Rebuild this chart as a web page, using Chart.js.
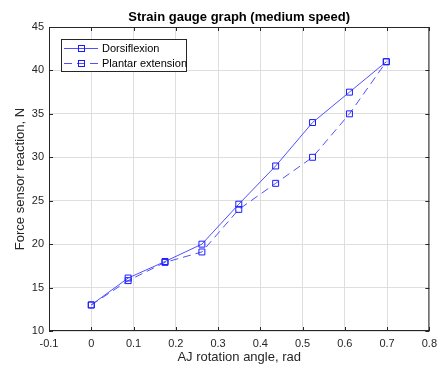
<!DOCTYPE html>
<html>
<head>
<meta charset="utf-8">
<script src="https://cdn.jsdelivr.net/npm/chart.js@4/dist/chart.umd.min.js"></script>
<style>
  html, body { margin: 0; padding: 0; background: #fff; }
  canvas { display: block; }
</style>
</head>
<body>
<canvas id="strain-chart" width="443" height="367"></canvas>
<script>
// data
const angleRad = [0, 0.0873, 0.1745, 0.2618, 0.3491, 0.4363, 0.5236, 0.6109, 0.6981];
const dorsiflexion = [13, 16.1, 18, 20, 24.6, 29, 34, 37.5, 41];
const plantarExt = [13, 15.8, 17.9, 19.1, 24, 27, 30, 35, 41];
const seriesNames = ["Dorsiflexion", "Plantar extension"];
const xTicks = [-0.1, 0, 0.1, 0.2, 0.3, 0.4, 0.5, 0.6, 0.7, 0.8];
const yTicks = [10, 15, 20, 25, 30, 35, 40, 45];

const chartTitle = "Strain gauge graph (medium speed)";
const FONT = "'Liberation Sans', Arial, Helvetica, sans-serif";
const AXIS_DARK = "#262626";
const LINE_BLUE = "#5050ff";
const MARK_BLUE = "#1a1aff";

function pts(xs, ys) {
    return xs.map((x, i) => ({x: x, y: ys[i]}));
}

// title, box frame with inward ticks, legend inside the axes
const matlabLook = {
    id: 'matlabLook',
    afterDraw(chart) {
        const ctx = chart.ctx;
        const a = chart.chartArea;
        const xs = chart.scales.x, ys = chart.scales.y;
        ctx.save();

        // title
        ctx.fillStyle = "#000";
        ctx.font = "bold 13px " + FONT;
        ctx.textAlign = "center";
        ctx.textBaseline = "middle";
        ctx.fillText(chartTitle, (a.left + a.right) / 2, 17);

        // frame
        ctx.strokeStyle = AXIS_DARK;
        ctx.lineWidth = 1;
        ctx.strokeRect(a.left + 0.5, a.top + 0.5, a.right - a.left - 1, a.bottom - a.top - 1);

        // inward ticks
        const tl = 4;
        ctx.beginPath();
        xTicks.forEach((v) => {
            const px = Math.round(xs.getPixelForValue(v)) + 0.5;
            ctx.moveTo(px, a.bottom); ctx.lineTo(px, a.bottom - tl);
            ctx.moveTo(px, a.top); ctx.lineTo(px, a.top + tl);
        });
        yTicks.forEach((v) => {
            const py = Math.round(ys.getPixelForValue(v)) + 0.5;
            ctx.moveTo(a.left, py); ctx.lineTo(a.left + tl, py);
            ctx.moveTo(a.right, py); ctx.lineTo(a.right - tl, py);
        });
        ctx.stroke();

        // legend
        const bx = 61.5, by = 39.5, bw = 125, bh = 32;
        ctx.fillStyle = "#fff";
        ctx.fillRect(bx, by, bw, bh);
        ctx.strokeStyle = AXIS_DARK;
        ctx.strokeRect(bx, by, bw, bh);
        ctx.font = "11px " + FONT;
        ctx.textAlign = "left";
        chart.data.datasets.forEach((ds, i) => {
            const ly = 48.5 + i * 15;
            ctx.strokeStyle = LINE_BLUE;
            ctx.lineWidth = 1;
            ctx.setLineDash(ds.borderDash || []);
            ctx.beginPath();
            ctx.moveTo(64, ly); ctx.lineTo(98, ly);
            ctx.stroke();
            ctx.setLineDash([]);
            ctx.strokeStyle = MARK_BLUE;
            ctx.strokeRect(78.5, ly - 3, 6, 6);
            ctx.fillStyle = "#000";
            ctx.fillText(ds.label, 102, ly + 0.5);
        });
        ctx.restore();
    }
};

new Chart(document.getElementById("strain-chart"), {
    type: 'line',
    data: {
        datasets: [
            {
                label: seriesNames[0],
                data: pts(angleRad, dorsiflexion),
                borderColor: LINE_BLUE,
                borderWidth: 1,
                pointStyle: 'rect',
                pointRadius: 4.2,
                pointBorderColor: MARK_BLUE,
                pointBackgroundColor: 'rgba(0,0,0,0)',
                pointBorderWidth: 1,
                fill: false,
                tension: 0
            },
            {
                label: seriesNames[1],
                data: pts(angleRad, plantarExt),
                borderColor: LINE_BLUE,
                borderWidth: 1,
                borderDash: [8, 5],
                pointStyle: 'rect',
                pointRadius: 4.2,
                pointBorderColor: MARK_BLUE,
                pointBackgroundColor: 'rgba(0,0,0,0)',
                pointBorderWidth: 1,
                fill: false,
                tension: 0
            }
        ]
    },
    options: {
        responsive: false,
        animation: false,
        devicePixelRatio: 1,
        layout: {padding: {left: 0, right: 12, top: 27, bottom: 0}},
        plugins: {
            legend: {display: false},
            title: {display: false},
            tooltip: {enabled: false}
        },
        scales: {
            x: {
                type: 'linear',
                min: -0.1,
                max: 0.8,
                afterBuildTicks: (s) => { s.ticks = xTicks.map((v) => ({value: v})); },
                afterFit: (s) => { s.height = 36; },
                border: {display: false},
                grid: {color: '#dedede', drawTicks: false},
                ticks: {
                    padding: 6,
                    color: AXIS_DARK,
                    font: {family: FONT, size: 11},
                    maxRotation: 0,
                    callback: (v) => String(Math.round(v * 10) / 10)
                },
                title: {
                    display: true,
                    text: 'AJ rotation angle, rad',
                    color: AXIS_DARK,
                    font: {family: FONT, size: 13},
                    padding: {top: 0, bottom: 2}
                }
            },
            y: {
                type: 'linear',
                min: 10,
                max: 45,
                afterBuildTicks: (s) => { s.ticks = yTicks.map((v) => ({value: v})); },
                afterFit: (s) => { s.width = 49; },
                border: {display: false},
                grid: {color: '#dedede', drawTicks: false},
                ticks: {
                    padding: 5,
                    color: AXIS_DARK,
                    font: {family: FONT, size: 11}
                },
                title: {
                    display: true,
                    text: 'Force sensor reaction, N',
                    color: AXIS_DARK,
                    font: {family: FONT, size: 13},
                    padding: {top: 13, bottom: 0}
                }
            }
        }
    },
    plugins: [matlabLook]
});
</script>
</body>
</html>
